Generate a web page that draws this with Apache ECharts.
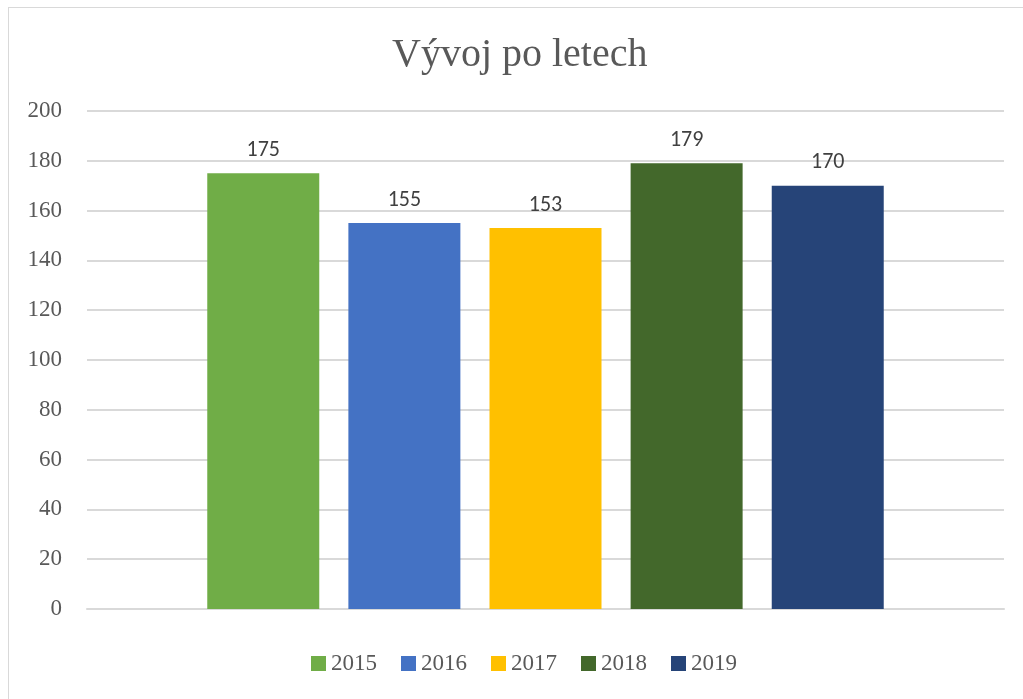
<!DOCTYPE html>
<html>
<head>
<meta charset="utf-8">
<script src="https://cdn.jsdelivr.net/npm/echarts@6/dist/echarts.min.js"></script>
<style>
  html, body { margin: 0; padding: 0; background: #fff; }
  #frame { position: absolute; left: 8px; top: 7px; width: 1030px; height: 700px; border: 1px solid #d9d9d9; box-sizing: border-box; }
  #chart { position: absolute; left: 0; top: 0; width: 1023px; height: 699px; }
</style>
</head>
<body>
<div id="frame"></div>
<div id="chart"></div>
<script>
// data
const years = ['2015', '2016', '2017', '2018', '2019'];
const values = [175, 155, 153, 179, 170];
const colors = ['#70AD47', '#4472C4', '#FFC000', '#43682B', '#264478'];
const yTicks = { min: 0, max: 200, step: 20 };

const serif = '"Liberation Serif", "DejaVu Serif", serif';

const chart = echarts.init(document.getElementById('chart'));

const series = years.map(function (y, i) {
  return {
    name: y,
    type: 'bar',
    data: [values[i]],
    barWidth: 112,
    barGap: '26%',
    itemStyle: { color: colors[i] },
    label: {
      show: true,
      position: 'top',
      distance: 12,
      color: '#404040',
      fontFamily: 'Carlito, "Open Sans", "Noto Sans", sans-serif',
      fontSize: 22
    }
  };
});

chart.setOption({
  animation: false,
  color: colors,
  title: {
    text: 'Vývoj po letech',
    left: 387,
    top: 30,
    textStyle: { fontFamily: serif, fontSize: 40, fontWeight: 'normal', color: '#595959' }
  },
  legend: {
    bottom: 19,
    left: 306,
    itemWidth: 15,
    itemHeight: 15,
    itemGap: 24,
    icon: 'rect',
    textStyle: { fontFamily: serif, fontSize: 23, color: '#595959' },
    data: years
  },
  grid: { left: 87, right: 19, top: 111, bottom: 90, containLabel: false },
  xAxis: {
    type: 'category',
    data: [''],
    axisLine: { lineStyle: { color: '#d9d9d9', width: 2 } },
    axisTick: { show: false },
    axisLabel: { show: false }
  },
  yAxis: {
    type: 'value',
    min: yTicks.min,
    max: yTicks.max,
    interval: yTicks.step,
    axisLine: { show: false },
    axisTick: { show: false },
    splitLine: { lineStyle: { color: '#d9d9d9', width: 2 } },
    axisLabel: { fontFamily: serif, fontSize: 23, color: '#595959', margin: 25 }
  },
  series: series
});
</script>
</body>
</html>
